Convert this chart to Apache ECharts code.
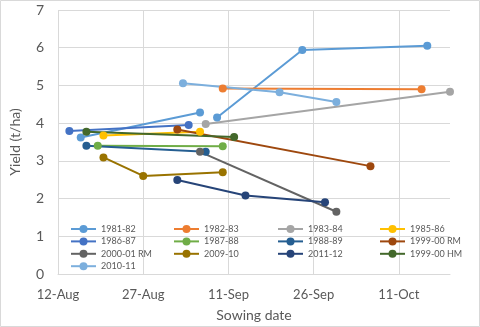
<!DOCTYPE html>
<html><head><meta charset="utf-8">
<script src="https://cdn.jsdelivr.net/npm/echarts@6/dist/echarts.min.js"></script>
<style>html,body{margin:0;padding:0;background:#fff}#c{width:480px;height:327px}</style>
</head><body><div id="c"></div>
<script>
// Sowing dates (MM-DD) and yields (t/ha) per season
const seriesNames = ['1981-82','1982-83','1983-84','1985-86','1986-87','1987-88','1988-89','1999-00 RM','2000-01 RM','2009-10','2011-12','1999-00 HM','2010-11'];
const d1981 = ['08-16','09-06',null,'09-09','09-24','10-16'], y1981 = [3.62,4.28,null,4.15,5.94,6.05];
const d1982 = ['09-10','10-15'], y1982 = [4.92,4.90];
const d1983 = ['09-07','10-20'], y1983 = [3.98,4.83];
const d1985 = ['08-20','09-06'], y1985 = [3.67,3.77];
const d1986 = ['08-14','09-04'], y1986 = [3.79,3.95];
const d1987 = ['08-19','09-10'], y1987 = [3.40,3.39];
const d1988 = ['08-17','09-07'], y1988 = [3.40,3.24];
const d1999RM = ['09-02','10-06'], y1999RM = [3.83,2.86];
const d2000RM = ['09-06','09-30'], y2000RM = [3.24,1.65];
const d2009 = ['08-20','08-27','09-10'], y2009 = [3.09,2.60,2.70];
const d2011 = ['09-02','09-14','09-28'], y2011 = [2.49,2.08,1.90];
const d1999HM = ['08-17','09-12'], y1999HM = [3.77,3.63];
const d2010 = ['09-03','09-20','09-30'], y2010 = [5.06,4.82,4.56];
const xTickLabels = ['12-Aug','27-Aug','11-Sep','26-Sep','11-Oct'];
const yTickLabels = ['0','1','2','3','4','5','6','7'];
const colors = ['#5B9BD5','#ED7D31','#A5A5A5','#FFC000','#4472C4','#70AD47','#255E91','#9E480E','#636363','#997300','#264478','#43682B','#7CAFDD'];
const legendCols = [['1981-82','1986-87','2000-01 RM','2010-11'],['1982-83','1987-88','2009-10'],['1983-84','1988-89','2011-12'],['1985-86','1999-00 RM','1999-00 HM']];

const allDates = [d1981,d1982,d1983,d1985,d1986,d1987,d1988,d1999RM,d2000RM,d2009,d2011,d1999HM,d2010];
const allYields = [y1981,y1982,y1983,y1985,y1986,y1987,y1988,y1999RM,y2000RM,y2009,y2011,y1999HM,y2010];
const BASE = Date.UTC(2000,7,12);
function dayOf(s){ if(s===null) return null; const p=s.split('-').map(Number); return (Date.UTC(2000,p[0]-1,p[1])-BASE)/86400000; }

const FONT = 'Lato';
const TXT = '#595959';
const GRID = '#D9D9D9';
const series = seriesNames.map((n,i)=>({
  name:n, type:'line', symbol:'circle', symbolSize:8, color:colors[i],
  lineStyle:{width:2}, connectNulls:false, animation:false,
  data: allDates[i].map((d,k)=> d===null ? [null,null] : [dayOf(d), allYields[i][k]])
}));
const legendLefts = [70,173,277,379];
const legends = legendCols.map((col,j)=>({
  data:col, orient:'vertical', left:legendLefts[j], top:224, padding:0,
  itemWidth:25, itemHeight:10, itemGap:2.4,
  textStyle:{fontFamily:FONT, fontSize:9, color:TXT, lineHeight:10}
}));
const chart = echarts.init(document.getElementById('c'));
chart.setOption({
  animation:false,
  textStyle:{fontFamily:FONT},
  graphic:[{type:'rect', shape:{x:0.5,y:0.5,width:479,height:326}, style:{fill:'none', stroke:GRID, lineWidth:1}, silent:true}],
  grid:{left:55, top:10, right:30, bottom:53},
  xAxis:{type:'value', min:0, max:69, interval:15,
    name:'Sowing date', nameLocation:'middle', nameGap:34,
    nameTextStyle:{fontFamily:FONT, fontSize:14, color:TXT},
    axisLine:{show:true, lineStyle:{color:GRID}}, axisTick:{show:false},
    axisLabel:{fontFamily:FONT, fontSize:13, color:TXT, margin:14, showMaxLabel:false,
      formatter:v=> (v%15===0 ? (xTickLabels[v/15]||'') : '')},
    splitLine:{show:true, lineStyle:{color:[GRID,GRID,GRID,GRID,GRID,'rgba(0,0,0,0)']}}},
  yAxis:{type:'value', min:0, max:7, interval:1,
    name:'Yield (t/ha)', nameLocation:'middle', nameGap:36, nameRotate:90,
    nameTextStyle:{fontFamily:FONT, fontSize:14, color:TXT},
    axisLine:{show:false}, axisTick:{show:false},
    axisLabel:{fontFamily:FONT, fontSize:14, color:TXT, margin:14, formatter:v=>yTickLabels[v]},
    splitLine:{show:true, lineStyle:{color:GRID}}},
  legend:legends,
  series:series
});
</script></body></html>
